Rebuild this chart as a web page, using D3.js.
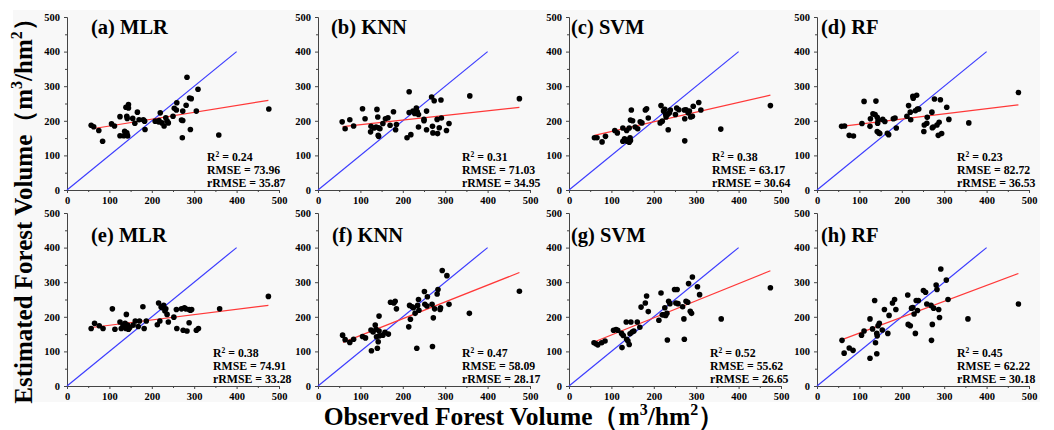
<!DOCTYPE html>
<html><head><meta charset="utf-8">
<script src="https://cdn.jsdelivr.net/npm/d3@7"></script>
<style>
html,body{margin:0;padding:0;background:#fff;}
svg{display:block;}
text{font-family:"Liberation Serif","Times New Roman",serif;font-weight:bold;fill:#000;}
</style></head>
<body>
<svg id="chart" width="1054" height="430"></svg>
<script>
// ---------- data ----------
const panelTitles = ["(a) MLR","(b) KNN","(c) SVM","(d) RF","(e) MLR","(f) KNN","(g) SVM","(h) RF"];
const r2Values   = ["0.24","0.31","0.38","0.23","0.38","0.47","0.52","0.45"];
const rmseValues = ["73.96","71.03","63.17","82.72","74.91","58.09","55.62","62.22"];
const rrmseValues= ["35.87","34.95","30.64","36.53","33.28","28.17","26.65","30.18"];
const tickValues = [0,100,200,300,400,500];
const minorTicks = [50,150,250,350,450];
const oneToOne = [[0,0],[400,400]];
// fitted regression lines: [x0,y0,x1,y1]
const fitA = [60,177,475,259];
const fitB = [58,183,475,239];
const fitC = [60,158,475,274];
const fitD = [58,184,475,246];
const fitE = [58,169,475,233];
const fitF = [59,126,475,328];
const fitG = [59,127,475,333];
const fitH = [59,134,475,325];

const obsA = [57,63,75,84,105,112,125,125,134,136,141,141,139,145,145,142,141,143,155,160,166,170,180,184,183,208,217,220,216,224,229,233,236,239,250,253,259,258,270,273,272,273,283,281,289,293,291,305,309,358,476];
const estA = [187,183,172,141,191,185,212,157,157,170,165,213,239,247,237,207,161,156,207,193,225,203,203,175,199,199,201,223,197,194,185,209,199,194,213,236,252,231,202,201,151,228,326,245,266,264,175,228,291,159,234];

const obsB = [57,64,75,84,105,111,124,125,132,137,139,141,143,142,143,146,153,159,165,170,178,183,185,210,215,215,219,224,228,232,234,237,237,250,250,256,256,268,270,271,274,281,282,286,290,291,303,309,358,475];
const estB = [197,177,203,185,235,206,168,184,179,182,233,211,180,158,155,177,192,206,209,187,226,174,189,151,284,224,160,228,221,237,226,218,182,200,204,228,174,269,184,165,258,204,163,180,260,208,172,192,272,264];

const obsC = [60,66,78,86,108,114,127,127,131,136,137,141,142,144,145,142,145,147,150,156,162,168,172,180,183,187,215,217,220,223,226,228,229,233,234,237,239,251,254,259,272,273,273,276,281,284,287,291,293,306,311,358,475];
const estC = [151,151,139,155,172,165,179,141,148,172,141,145,138,151,143,179,202,231,200,182,177,197,194,231,235,208,194,244,199,228,233,218,211,219,174,223,231,218,237,232,231,142,206,232,223,228,211,213,242,253,231,176,244];

const obsD = [58,65,76,86,106,111,125,126,132,137,139,142,142,143,144,146,148,155,160,166,169,180,184,187,212,216,220,221,226,227,232,235,237,240,252,253,259,260,271,272,274,277,283,286,288,291,294,306,311,358,475];
const estD = [184,185,158,156,192,256,184,206,220,218,257,210,169,193,201,165,163,204,198,164,160,206,208,179,213,244,225,203,271,265,229,274,234,234,169,188,193,210,225,180,182,263,188,158,196,261,163,239,204,194,282];

const obsE = [57,65,76,85,107,113,125,128,132,137,139,140,142,143,145,148,156,161,168,171,179,182,187,213,216,219,222,225,228,231,233,236,239,252,258,259,270,274,277,280,283,288,288,291,294,305,310,360,475];
const estE = [166,181,174,166,223,164,185,166,176,181,166,207,172,176,164,169,176,188,172,188,229,166,188,177,240,188,228,226,233,217,223,207,185,199,221,166,223,161,226,223,159,221,183,219,221,161,166,223,259];

const obsF = [58,64,75,84,105,112,125,126,130,135,137,138,140,142,144,144,145,153,158,166,171,179,182,185,214,216,218,222,225,229,233,235,237,238,251,252,257,258,269,270,272,275,281,283,288,289,293,304,309,357,475];
const estF = [147,134,126,135,143,139,162,102,156,176,164,142,109,128,202,159,145,147,155,150,242,240,245,223,171,233,193,229,226,210,109,233,250,219,273,236,231,258,236,114,197,223,266,279,221,226,334,319,236,210,274];

const obsG = [59,64,68,77,85,105,111,115,124,125,128,135,136,139,142,144,146,149,153,161,167,170,180,183,187,212,217,220,223,226,228,231,232,235,238,249,252,255,257,268,271,272,276,280,282,286,289,291,303,308,359,475];
const estG = [125,122,119,125,130,161,163,161,152,111,146,185,135,130,120,151,185,156,159,185,170,228,240,260,215,190,269,206,206,226,204,210,133,245,238,279,240,279,238,229,194,135,245,242,296,216,210,315,287,264,194,284];

const obsH = [59,64,76,85,105,111,125,125,131,136,138,141,141,142,144,147,154,159,167,170,178,183,186,214,215,220,223,226,229,232,234,239,237,251,256,259,269,270,272,275,281,283,287,289,292,305,309,356,475];
const estH = [132,95,110,103,147,159,194,80,165,247,125,152,93,145,174,181,162,221,152,204,240,250,221,263,178,174,225,227,208,152,247,247,218,276,271,237,233,132,178,225,292,279,221,198,338,306,250,194,237];

const panelObs = [obsA,obsB,obsC,obsD,obsE,obsF,obsG,obsH];
const panelEst = [estA,estB,estC,estD,estE,estF,estG,estH];
const panelFit = [fitA,fitB,fitC,fitD,fitE,fitF,fitG,fitH];

// ---------- layout ----------
const colX = [67, 318, 569, 817];
const rowTop = [17, 213];
const plotW = 212, plotH = 173;
const titleDx = [24,13,2,4,24,14,2,4];
const statsDx = [140,144,143,140,146,144,141,140];

const svg = d3.select("#chart");
svg.append("rect").attr("x",13).attr("y",10).attr("width",1027).attr("height",392).attr("fill","#f8f8f8");

panelTitles.forEach((title,i)=>{
  const col = i%4, row = Math.floor(i/4);
  const x0 = colX[col], yTop = rowTop[row];
  const x = d3.scaleLinear().domain([0,500]).range([x0, x0+plotW]);
  const y = d3.scaleLinear().domain([0,500]).range([yTop+plotH, yTop]);
  const g = svg.append("g");

  // axes
  g.append("g").attr("transform",`translate(0,${yTop+plotH})`)
    .call(d3.axisBottom(x).tickValues(tickValues).tickSize(3).tickPadding(4).tickFormat(d3.format("d")));
  g.append("g").attr("transform",`translate(0,${yTop+plotH})`)
    .call(d3.axisBottom(x).tickValues(minorTicks).tickSize(2).tickFormat(""))
    .select(".domain").remove();
  g.append("g").attr("transform",`translate(${x0},0)`)
    .call(d3.axisLeft(y).tickValues(tickValues).tickSize(3).tickPadding(4).tickFormat(d3.format("d")));
  g.append("g").attr("transform",`translate(${x0},0)`)
    .call(d3.axisLeft(y).tickValues(minorTicks).tickSize(2).tickFormat(""))
    .select(".domain").remove();
  g.selectAll(".domain").attr("stroke","#444").attr("stroke-width",1);
  g.selectAll(".tick line").attr("stroke","#444");
  g.selectAll(".tick text").attr("font-family","Liberation Serif, serif").attr("font-weight","bold").attr("font-size","10.5px").attr("fill","#000");

  // 1:1 line
  g.append("line")
    .attr("x1",x(oneToOne[0][0])).attr("y1",y(oneToOne[0][1]))
    .attr("x2",x(oneToOne[1][0])).attr("y2",y(oneToOne[1][1]))
    .attr("stroke","#3c3cff").attr("stroke-width",1.2);
  // fit line
  const f = panelFit[i];
  g.append("line")
    .attr("x1",x(f[0])).attr("y1",y(f[1])).attr("x2",x(f[2])).attr("y2",y(f[3]))
    .attr("stroke","#ff3838").attr("stroke-width",1.2);

  // points
  const pts = panelObs[i].map((o,k)=>[o,panelEst[i][k]]);
  g.selectAll("circle.pt").data(pts).enter().append("circle")
    .attr("cx",d=>x(d[0])).attr("cy",d=>y(d[1])).attr("r",2.8).attr("fill","#000");

  // title
  g.append("text").attr("x",x0+titleDx[i]).attr("y", row===0? 34 : 241.5)
    .attr("font-size","20.5px").text(title);

  // stats
  const sx = x0+statsDx[i], yb = yTop+plotH;
  const t1 = g.append("text").attr("x",sx).attr("y",yb-29).attr("font-size","11.8px");
  t1.append("tspan").text("R");
  t1.append("tspan").attr("dy",-4).attr("font-size","7.5px").text("2");
  t1.append("tspan").attr("dy",4).text(" = "+r2Values[i]);
  g.append("text").attr("x",sx).attr("y",yb-16).attr("font-size","11.8px").text("RMSE = "+rmseValues[i]);
  g.append("text").attr("x",sx).attr("y",yb-3).attr("font-size","11.8px").text("rRMSE = "+rrmseValues[i]);
});

// axis titles
function axisTitle(sel, label){
  sel.append("tspan").text(label+"（m");
  sel.append("tspan").attr("dy",-10).attr("font-size","16px").text("3");
  sel.append("tspan").attr("dy",10).text("/hm");
  sel.append("tspan").attr("dy",-10).attr("font-size","16px").text("2");
  sel.append("tspan").attr("dy",10).text("）");
}
const xt = svg.append("text").attr("x",524).attr("y",425).attr("text-anchor","middle").attr("font-size","25.5px");
axisTitle(xt,"Observed Forest Volume");
const yt = svg.append("text").attr("transform","translate(32,205) rotate(-90)").attr("text-anchor","middle").attr("font-size","25px");
axisTitle(yt,"Estimated Forest Volume");
</script>
</body></html>
